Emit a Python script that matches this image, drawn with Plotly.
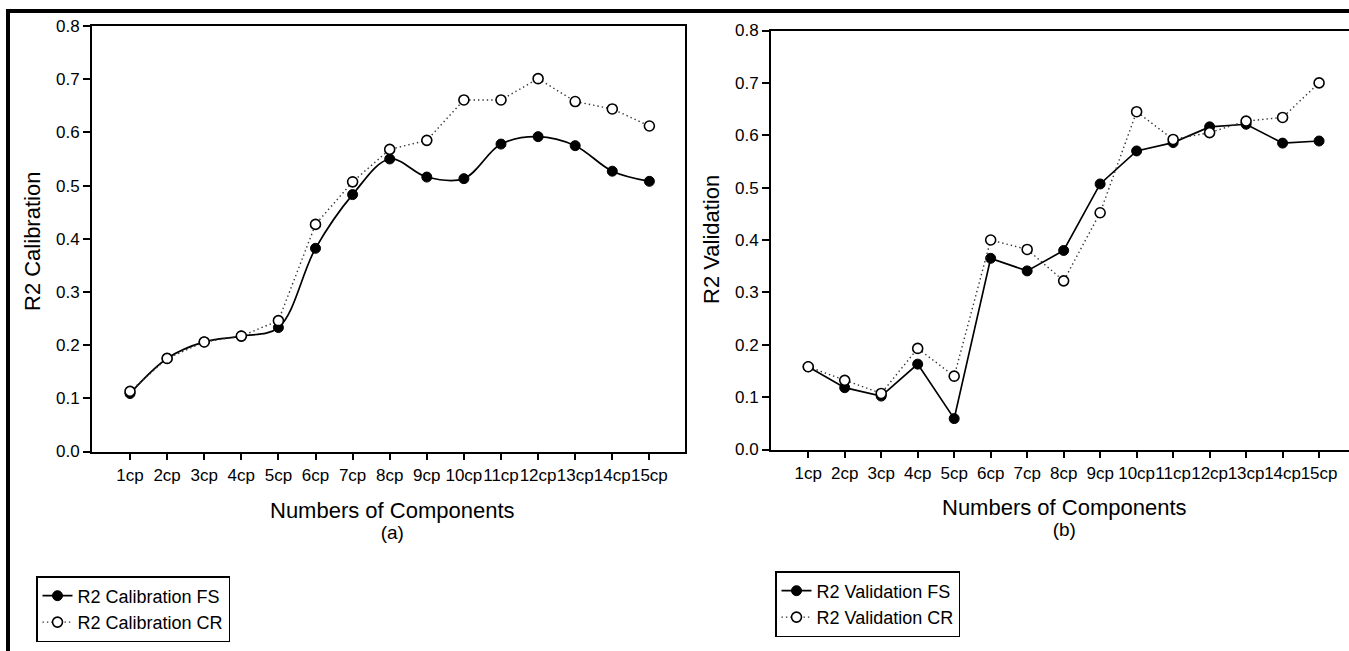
import plotly.graph_objects as go

W, H = 1349, 651

components = ["1cp", "2cp", "3cp", "4cp", "5cp", "6cp", "7cp", "8cp", "9cp",
              "10cp", "11cp", "12cp", "13cp", "14cp", "15cp"]

cal_fs = [0.109, 0.175, 0.206, 0.217, 0.233, 0.382, 0.483, 0.550, 0.516,
          0.513, 0.578, 0.592, 0.575, 0.527, 0.508]
cal_cr = [0.113, 0.175, 0.206, 0.217, 0.246, 0.427, 0.507, 0.568, 0.585,
          0.661, 0.661, 0.701, 0.658, 0.644, 0.612]

val_fs = [0.158, 0.118, 0.102, 0.163, 0.059, 0.365, 0.341, 0.380, 0.507,
          0.570, 0.586, 0.616, 0.621, 0.585, 0.589]
val_cr = [0.158, 0.132, 0.107, 0.193, 0.140, 0.400, 0.382, 0.322, 0.452,
          0.645, 0.592, 0.605, 0.627, 0.634, 0.700]

y_ticks = [0.0, 0.1, 0.2, 0.3, 0.4, 0.5, 0.6, 0.7, 0.8]
y_ticktext = ["0.0", "0.1", "0.2", "0.3", "0.4", "0.5", "0.6", "0.7", "0.8"]

FONT = "Liberation Sans, Arial, sans-serif"


def px_x(p):
    return p / W


def px_y(p):
    return 1 - p / H


fig = go.Figure()

filled = dict(symbol="circle", size=10, color="black", line=dict(color="black", width=1))
hollow = dict(symbol="circle", size=10, color="white", line=dict(color="black", width=1.6))
dotted = dict(color="#333", width=1.4, dash="1.4px,3px")

fig.add_trace(go.Scatter(x=components, y=cal_fs, mode="lines+markers", name="R2 Calibration FS",
                         line=dict(color="black", width=1.7, shape="spline", smoothing=1.0),
                         marker=filled, xaxis="x", yaxis="y", legend="legend"))
fig.add_trace(go.Scatter(x=components, y=cal_cr, mode="lines+markers", name="R2 Calibration CR",
                         line=dotted, marker=hollow, xaxis="x", yaxis="y", legend="legend"))
fig.add_trace(go.Scatter(x=components, y=val_fs, mode="lines+markers", name="R2 Validation FS",
                         line=dict(color="black", width=1.7),
                         marker=filled, xaxis="x2", yaxis="y2", legend="legend2"))
fig.add_trace(go.Scatter(x=components, y=val_cr, mode="lines+markers", name="R2 Validation CR",
                         line=dotted, marker=hollow, xaxis="x2", yaxis="y2", legend="legend2"))

tickfont = dict(family=FONT, size=17, color="black")

common_x = dict(type="category", showgrid=False, zeroline=False, showline=True,
                linecolor="black", linewidth=1.7, ticks="outside", ticklen=7,
                tickwidth=1.5, tickcolor="black", tickfont=tickfont, tickangle=0,
                automargin=False, categoryorder="array", categoryarray=components)
common_y = dict(showgrid=False, zeroline=False, showline=True, linecolor="black",
                linewidth=1.7, ticks="outside", ticklen=7, tickwidth=1.5,
                tickcolor="black", tickfont=tickfont, range=[0, 0.8], automargin=False,
                tickvals=y_ticks, ticktext=y_ticktext)

legend_font = dict(family=FONT, size=18, color="black")

fig.update_layout(
    template="none",
    width=W, height=H, autosize=False,
    margin=dict(l=0, r=0, t=0, b=0, pad=0, autoexpand=False),
    paper_bgcolor="white", plot_bgcolor="white",
    font=dict(family=FONT, color="black"),
    xaxis=dict(common_x, domain=[px_x(92), px_x(685)], range=[-1.025, 14.96],
               anchor="y", mirror=True),
    yaxis=dict(common_y, domain=[px_y(451.5), px_y(26)], anchor="x", mirror=True),
    xaxis2=dict(common_x, domain=[px_x(771), 1.0], range=[-1.02, 14.82],
                anchor="y2", mirror=True),
    yaxis2=dict(common_y, domain=[px_y(449.5), px_y(30.5)], anchor="x2", mirror=False),
    legend=dict(x=px_x(36), y=px_y(576), xanchor="left", yanchor="top",
                bordercolor="black", borderwidth=1.5, bgcolor="white",
                font=legend_font, tracegroupgap=0, itemwidth=30),
    legend2=dict(x=px_x(775), y=px_y(571), xanchor="left", yanchor="top",
                 bordercolor="black", borderwidth=1.5, bgcolor="white",
                 font=legend_font, tracegroupgap=0, itemwidth=30),
    showlegend=True,
)

ann = [
    dict(text="<span style='font-size:22px'>Numbers of Components</span><br>"
              "<span style='font-size:19px'>(a)</span>",
         x=px_x(392), y=px_y(520)),
    dict(text="<span style='font-size:22px'>Numbers of Components</span><br>"
              "<span style='font-size:19px'>(b)</span>",
         x=px_x(1064), y=px_y(517)),
    dict(text="R2 Calibration", x=px_x(32), y=px_y(242), textangle=-90,
         font=dict(family=FONT, size=22, color="black")),
    dict(text="R2 Validation", x=px_x(712), y=px_y(240), textangle=-90,
         font=dict(family=FONT, size=22, color="black")),
]
for a in ann:
    a.setdefault("font", dict(family=FONT, size=16, color="black"))
    a.update(xref="paper", yref="paper", showarrow=False, xanchor="center", yanchor="middle")
fig.update_layout(annotations=ann)

fig.update_layout(shapes=[
    dict(type="line", xref="paper", yref="paper", x0=px_x(6), x1=1.0, y0=px_y(11), y1=px_y(11),
         line=dict(color="black", width=4)),
    dict(type="line", xref="paper", yref="paper", x0=px_x(8), x1=px_x(8), y0=px_y(9), y1=0,
         line=dict(color="black", width=4)),
])

fig.write_html("out.html", config={"displayModeBar": False},
               post_script="document.body.style.margin='0px';")
